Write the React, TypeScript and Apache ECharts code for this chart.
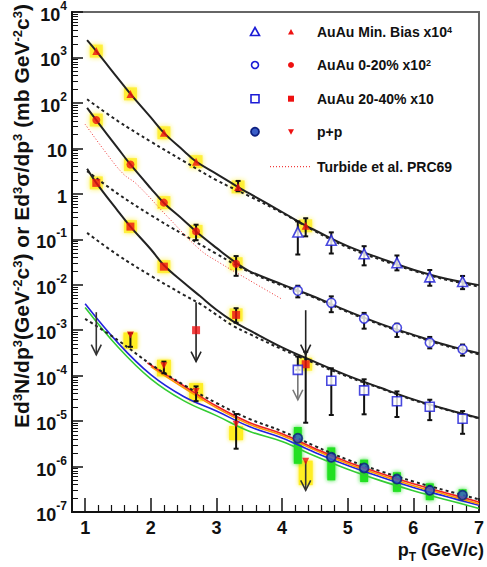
import React, { useEffect, useRef } from 'react';
import * as echarts from 'echarts';

// ---------- axis ticks ----------
const xTickLabels = [1, 2, 3, 4, 5, 6, 7];
const yDecades = [-7, -6, -5, -4, -3, -2, -1, 0, 1, 2, 3, 4];

// ---------- AuAu Min. Bias x10^4 ----------
const mbRedX = [1.17, 1.69, 2.2, 2.69, 3.33, 4.36];
const mbRedY = [1380, 158, 22, 5.1, 1.42, 0.198];
const mbRedErr = [[3.33, 1.14, 1.92], [4.36, 0.116, 0.29]];
const mbBlueX = [4.24, 4.75, 5.25, 5.75, 6.25, 6.75];
const mbBlueY = [0.144, 0.095, 0.048, 0.0305, 0.0149, 0.0118];
const mbBlueHi = [0.247, 0.142, 0.0705, 0.044, 0.0211, 0.0156];
const mbBlueLo = [0.0462, 0.0486, 0.0267, 0.0207, 0.0095, 0.008];
const mbFitX = [1.03, 1.17, 1.5, 1.69, 2, 2.2, 2.5, 2.69, 3, 3.33, 3.5, 4, 4.36, 4.5, 5, 5.5, 6, 6.5, 7];
const mbFitY = [2400, 1380, 347, 158, 47.9, 21.9, 8.9, 5.13, 2.75, 1.41, 1.02, 0.398, 0.2, 0.158, 0.0708, 0.038, 0.0214, 0.0135, 0.0098];
const mbDashX = [1.03, 1.5, 2, 2.5, 3, 3.5, 4, 4.5, 5, 5.5, 6, 6.5, 7];
const mbDashY = [120, 39.8, 14.1, 5.25, 2.0, 0.89, 0.38, 0.151, 0.066, 0.0355, 0.0204, 0.0129, 0.0091];

// ---------- AuAu 0-20% x10^2 ----------
const c20RedX = [1.17, 1.69, 2.2, 2.69, 3.3];
const c20RedY = [42, 4.4, 0.64, 0.149, 0.029];
const c20RedErr = [[2.69, 0.0955, 0.209], [3.3, 0.0157, 0.0427]];
const c20BlueX = [4.24, 4.75, 5.25, 5.75, 6.25, 6.75];
const c20BlueY = [0.0074, 0.004, 0.0018, 0.00113, 5.3e-4, 3.8e-4];
const c20BlueHi = [0.0095, 0.00555, 0.0024, 0.00139, 7.1e-4, 4.83e-4];
const c20BlueLo = [0.00527, 0.00249, 0.00108, 7.1e-4, 3.98e-4, 2.75e-4];
const c20FitX = [1.03, 1.17, 1.5, 1.69, 2, 2.2, 2.5, 2.69, 3, 3.3, 3.5, 4, 4.5, 5, 5.5, 6, 6.5, 7];
const c20FitY = [77.6, 41.7, 10, 4.42, 1.32, 0.63, 0.263, 0.148, 0.0646, 0.0302, 0.02, 0.0102, 0.00537, 0.00263, 0.00138, 7.9e-4, 4.7e-4, 3.1e-4];
const c20DashX = [1.03, 1.5, 2, 2.5, 3, 3.5, 4, 4.5, 5, 5.5, 6, 6.5, 7];
const c20DashY = [3.16, 1.0, 0.339, 0.126, 0.0479, 0.0191, 0.00955, 0.00513, 0.00251, 0.00132, 7.6e-4, 4.5e-4, 2.95e-4];

// ---------- AuAu 20-40% x10 ----------
const c40RedX = [1.17, 1.69, 2.2, 2.69, 3.3, 4.36];
const c40RedY = [1.74, 0.19, 0.025, 0.001, 0.00217, 1.78e-4];
const c40RedSys = [true, true, true, false, true, true];
const c40RedErr = [[3.3, 1.46e-3, 3.04e-3], [4.36, 9.2e-6, 3.36e-4]];
const c40Arrows = [[2.69, 4.1e-3, 2.04e-4], [4.36, 2.75e-3, 2.9e-4]];
const c40BlueX = [4.24, 4.75, 5.25, 5.75, 6.25, 6.75];
const c40BlueY = [1.34e-4, 7.7e-5, 4.75e-5, 2.73e-5, 2.06e-5, 1.13e-5];
const c40BlueHi = [2.63e-4, 1.45e-4, 8.3e-5, 4.5e-5, 2.95e-5, 1.66e-5];
const c40BlueLo = [1.34e-4, 1.36e-5, 1.41e-5, 1.23e-5, 1.05e-5, 5.25e-6];
const c40GrayArrow = [[4.24, 1.34e-4, 2.95e-5]];
const c40FitX = [1.03, 1.17, 1.5, 1.69, 2, 2.2, 2.5, 2.75, 3, 3.25, 3.5, 4, 4.5, 5, 5.5, 6, 6.5, 7];
const c40FitY = [3.55, 1.74, 0.417, 0.19, 0.0603, 0.0269, 0.0112, 0.00562, 0.00282, 0.00158, 0.001, 4.17e-4, 2.0e-4, 1.0e-4, 5.4e-5, 3.0e-5, 1.82e-5, 1.17e-5];
const c40DashX = [1.03, 1.5, 2, 2.5, 2.75, 3, 3.25, 3.5, 4, 4.5, 5, 5.5, 6, 6.5, 7];
const c40DashY = [0.138, 0.0447, 0.0158, 0.006, 0.0038, 0.00219, 0.00126, 8.3e-4, 3.8e-4, 1.86e-4, 9.5e-5, 5.25e-5, 2.9e-5, 1.78e-5, 1.15e-5];

// ---------- p+p ----------
const ppRedX = [1.69, 2.2, 2.69, 3.3, 4.36];
const ppRedY = [7.8e-4, 1.66e-4, 4.5e-5, 8.5e-6, 1.3e-6];
const ppRedErr = [[1.69, 4.3e-4, 8.6e-4], [2.2, 1.13e-4, 2.03e-4], [2.69, 2.75e-5, 5.8e-5], [3.3, 2.47e-6, 1.43e-5]];
const ppRedSys = [[1.69, 3.9e-4, 8.9e-4], [2.2, 9.6e-5, 2.24e-4], [2.69, 2.74e-5, 6.85e-5], [3.3, 3.8e-6, 7.8e-6], [4.36, 3.9e-7, 1.35e-6]];
const ppArrows = [[1.17, 2.49e-3, 2.9e-4], [4.36, 1.3e-6, 3.0e-7]];
const ppBlueX = [4.24, 4.75, 5.25, 5.75, 6.25, 6.75];
const ppBlueY = [4.2e-6, 1.6e-6, 9.3e-7, 5.3e-7, 3.0e-7, 2.35e-7];
const ppBlueSysLo = [1.15e-6, 4.97e-7, 4.56e-7, 2.77e-7, 1.82e-7, 1.76e-7];
const ppBlueSysHi = [7.4e-6, 2.64e-6, 1.42e-6, 7.5e-7, 4.27e-7, 3.17e-7];
const ppDashX = [1.0, 1.5, 2, 2.5, 3, 3.5, 4, 4.5, 5, 5.5, 6, 6.5, 7];
const ppDashY = [1.78e-3, 6.0e-4, 1.78e-4, 6.3e-5, 2.5e-5, 1.12e-5, 6.0e-6, 2.82e-6, 1.41e-6, 7.9e-7, 4.7e-7, 2.95e-7, 1.9e-7];
const ppRedCurveX = [1.95, 2.5, 3, 3.5, 4, 4.5, 5, 5.5, 6, 6.5, 7];
const ppRedCurveY = [1.9e-4, 6.0e-5, 2.14e-5, 9.3e-6, 5.25e-6, 2.5e-6, 1.26e-6, 7.1e-7, 4.17e-7, 2.63e-7, 1.66e-7];
const ppOrangeX = [2.0, 2.5, 3, 3.5, 4, 4.5, 5, 5.5, 6, 6.5, 7];
const ppOrangeY = [1.58e-4, 5.4e-5, 1.95e-5, 8.5e-6, 4.8e-6, 2.3e-6, 1.15e-6, 6.5e-7, 3.8e-7, 2.4e-7, 1.51e-7];
const ppBlueCurveX = [1.0, 1.5, 2, 2.5, 3, 3.5, 4, 4.5, 5, 5.5, 6, 6.5, 7];
const ppBlueCurveY = [3.8e-3, 5.25e-4, 1.05e-4, 3.47e-5, 1.66e-5, 7.6e-6, 4.27e-6, 2.04e-6, 1.05e-6, 5.9e-7, 3.47e-7, 2.19e-7, 1.41e-7];
const ppGreenX = [1.0, 1.5, 2, 2.5, 3, 3.5, 4, 4.5, 5, 5.5, 6, 6.5, 7];
const ppGreenY = [3.16e-3, 4.27e-4, 8.5e-5, 2.82e-5, 1.32e-5, 6.0e-6, 3.55e-6, 1.7e-6, 8.7e-7, 4.9e-7, 2.95e-7, 1.86e-7, 1.2e-7];

// ---------- Turbide et al. ----------
const turbX = [1.0, 1.33, 1.58, 1.78, 2.28, 2.75, 3.03, 3.5, 4.0];
const turbY = [33.9, 7.6, 2.75, 1.66, 0.288, 0.0589, 0.0316, 0.0126, 0.00479];

// ---------- legend ----------
const legendTexts = ['AuAu Min. Bias x10{s|4}', 'AuAu 0-20% x10{s|2}', 'AuAu 20-40% x10', 'p+p', 'Turbide et al. PRC69'];

const FONT = '"Liberation Sans", Arial, Helvetica, sans-serif';
const BLUE = '#1c1cd6';
const RED = '#ee1111';
const YELLOW = '#ffee22';
const GREEN = '#22e022';

const L = (v: number) => Math.log10(v);
const pts = (xs: number[], ys: number[]) => xs.map((x, i) => [x, L(ys[i])]);

export default function App() {
  const ref = useRef<HTMLDivElement>(null);
  useEffect(() => {
    document.body.style.margin = '0';
    const chart = echarts.init(ref.current!, null, { renderer: 'svg' });

    const minorY: number[] = [];
    for (let n = -7; n < 4; n++) for (let k = 2; k <= 9; k++) minorY.push(n + Math.log10(k));
    const minorX: number[] = [];
    for (let i = 6; i <= 34; i++) if (i % 5 !== 0) minorX.push(i / 5);

    const line = (xs: number[], ys: number[], color: string, width: number, type: any, z = 3) => ({
      type: 'line', data: pts(xs, ys), showSymbol: false, smooth: 0.4, silent: true, z,
      lineStyle: { color, width, type },
    });

    const errRender = (color: string) => (params: any, api: any) => {
      const x = api.value(0), lo = api.value(1), hi = api.value(2);
      const a = api.coord([x, hi]);
      const b = api.coord([x, lo]);
      const st = { stroke: color, lineWidth: 2 };
      return {
        type: 'group', children: [
          { type: 'line', shape: { x1: a[0], y1: a[1], x2: b[0], y2: b[1] }, style: st },
          { type: 'line', shape: { x1: a[0] - 2.5, y1: a[1], x2: a[0] + 2.5, y2: a[1] }, style: st },
          { type: 'line', shape: { x1: b[0] - 2.5, y1: b[1], x2: b[0] + 2.5, y2: b[1] }, style: st },
        ],
      };
    };
    const arrowRender = (color: string) => (params: any, api: any) => {
      const x = api.value(0), top = api.value(1), bot = api.value(2);
      const a = api.coord([x, top]);
      const b = api.coord([x, bot]);
      const st = { stroke: color, lineWidth: 1.6, fill: 'none' };
      return {
        type: 'group', children: [
          { type: 'line', shape: { x1: a[0], y1: a[1], x2: b[0], y2: b[1] }, style: st },
          { type: 'polyline', shape: { points: [[b[0] - 5, b[1] - 10], [b[0], b[1]], [b[0] + 5, b[1] - 10]] }, style: st },
        ],
      };
    };
    const boxRender = (color: string, w: number) => (params: any, api: any) => {
      const x = api.value(0), lo = api.value(1), hi = api.value(2);
      const a = api.coord([x, hi]);
      const b = api.coord([x, lo]);
      return { type: 'rect', shape: { x: a[0] - w / 2, y: a[1], width: w, height: b[1] - a[1] }, style: { fill: color, shadowBlur: 4, shadowColor: color } };
    };
    const errData = (arr: number[][]) => arr.map((d) => [d[0], L(d[1]), L(d[2])]);
    const errFrom = (xs: number[], lo: number[], hi: number[]) => xs.map((x, i) => [x, L(lo[i]), L(hi[i])]);

    const custom = (data: any[], render: any, z: number) => ({
      type: 'custom', data, renderItem: render, z, silent: true, encode: { x: 0, y: [1, 2] },
    });

    const yellowPts = [
      ...pts(mbRedX, mbRedY),
      ...pts(c20RedX, c20RedY),
      ...pts(c40RedX, c40RedY).filter((_, i) => c40RedSys[i]),
    ];

    const blueOpen = (xs: number[], ys: number[], symbol: string, size: number) => ({
      type: 'scatter', data: pts(xs, ys), symbol, symbolSize: size, z: 6, silent: true,
      itemStyle: { color: '#ffffff', borderColor: BLUE, borderWidth: 1.6 },
    });
    const redFilled = (xs: number[], ys: number[], symbol: string, size: number, rotate = 0) => ({
      type: 'scatter', data: pts(xs, ys), symbol, symbolSize: size, symbolRotate: rotate, z: 6, silent: true,
      itemStyle: { color: RED },
    });

    const legendY = [32, 65, 98.7, 131.7, 166.7];
    const lg: any[] = [];
    const bx = 255, rx = 291, tx = 317;
    lg.push({ type: 'polygon', shape: { points: [[bx, legendY[0] - 4.5], [bx + 4.5, legendY[0] + 3.5], [bx - 4.5, legendY[0] + 3.5]] }, style: { fill: 'none', stroke: BLUE, lineWidth: 1.6 } });
    lg.push({ type: 'polygon', shape: { points: [[rx, legendY[0] - 3], [rx + 3, legendY[0] + 2.5], [rx - 3, legendY[0] + 2.5]] }, style: { fill: RED } });
    lg.push({ type: 'circle', shape: { cx: bx, cy: legendY[1], r: 3.5 }, style: { fill: 'none', stroke: BLUE, lineWidth: 1.6 } });
    lg.push({ type: 'circle', shape: { cx: rx, cy: legendY[1], r: 3 }, style: { fill: RED } });
    lg.push({ type: 'rect', shape: { x: bx - 4, y: legendY[2] - 4, width: 8, height: 8 }, style: { fill: 'none', stroke: BLUE, lineWidth: 1.6 } });
    lg.push({ type: 'rect', shape: { x: rx - 3, y: legendY[2] - 3, width: 6, height: 6 }, style: { fill: RED } });
    lg.push({ type: 'circle', shape: { cx: bx, cy: legendY[3], r: 4 }, style: { fill: '#3a5ec8', stroke: '#0d1f80', lineWidth: 1.8 } });
    lg.push({ type: 'polygon', shape: { points: [[rx - 3, legendY[3] - 2.5], [rx + 3, legendY[3] - 2.5], [rx, legendY[3] + 3]] }, style: { fill: RED } });
    lg.push({ type: 'line', shape: { x1: 270, y1: legendY[4], x2: 310, y2: legendY[4] }, style: { stroke: RED, lineWidth: 1, lineDash: [1, 2] } });
    legendTexts.forEach((t, i) => {
      lg.push({
        type: 'text', x: tx, y: legendY[i],
        style: {
          text: t, fontFamily: FONT, fontSize: 14, fontWeight: 'bold', fill: '#111',
          verticalAlign: 'middle', align: 'left',
          rich: { s: { fontSize: 9, fontWeight: 'bold', fontFamily: FONT, verticalAlign: 'top', lineHeight: 9 } },
        },
      });
    });

    const option: any = {
      animation: false,
      backgroundColor: '#ffffff',
      grid: { left: 72, right: 4, top: 6, bottom: 55, show: true, borderColor: '#666', borderWidth: 2, backgroundColor: 'transparent' },
      xAxis: [
        {
          type: 'value', min: 0.8, max: 7, position: 'bottom',
          axisLine: { onZero: false, lineStyle: { color: '#111', width: 2 } },
          axisTick: { show: true, inside: true, length: 14, customValues: xTickLabels, lineStyle: { color: '#111', width: 1.5 } },
          axisLabel: {
            customValues: xTickLabels, margin: 7, color: '#111', fontSize: 18, fontWeight: 'bold', fontFamily: FONT,
            formatter: (v: number) => String(v),
          },
          splitLine: { show: false },
        },
        {
          type: 'value', min: 0.8, max: 7, position: 'bottom', gridIndex: 0,
          axisLine: { show: false, onZero: false },
          axisTick: { show: true, inside: true, length: 7, customValues: minorX, lineStyle: { color: '#111', width: 1.2 } },
          axisLabel: { show: false },
          splitLine: { show: false },
        },
      ],
      yAxis: [
        {
          type: 'value', min: -7, max: 4, interval: 1, position: 'left',
          axisLine: { show: true, onZero: false, lineStyle: { color: '#111', width: 2 } },
          axisTick: { show: true, inside: true, length: 11, lineStyle: { color: '#111', width: 1.5 } },
          axisLabel: {
            margin: 5, color: '#111', fontFamily: FONT,
            formatter: (v: number) => (v === 0 ? '{b|1}' : v === 1 ? '{b|10}' : `{b|10}{s|${v}}`),
            rich: {
              b: { fontSize: 18, fontWeight: 'bold', fontFamily: FONT, color: '#111', lineHeight: 24, verticalAlign: 'bottom' },
              s: { fontSize: 12, fontWeight: 'bold', fontFamily: FONT, color: '#111', lineHeight: 12, verticalAlign: 'top' },
            },
          },
          splitLine: { show: false },
        },
        {
          type: 'value', min: -7, max: 4, position: 'left', gridIndex: 0,
          axisLine: { show: false, onZero: false },
          axisTick: { show: true, inside: true, length: 6, customValues: minorY, lineStyle: { color: '#111', width: 1 } },
          axisLabel: { show: false },
          splitLine: { show: false },
        },
      ],
      series: [
        // systematic boxes
        { type: 'scatter', data: yellowPts, symbol: 'rect', symbolSize: 13, z: 1, silent: true, itemStyle: { color: YELLOW, shadowBlur: 5, shadowColor: YELLOW } },
        custom(errData(ppRedSys), boxRender(YELLOW, 14), 1),
        custom(errFrom(ppBlueX, ppBlueSysLo, ppBlueSysHi), boxRender(GREEN, 8), 1),
        // curves
        line(mbFitX, mbFitY, '#222', 2, 'solid'),
        line(mbDashX, mbDashY, '#222', 2, [3, 3]),
        line(c20FitX, c20FitY, '#222', 2, 'solid'),
        line(c20DashX, c20DashY, '#222', 2, [3, 3]),
        line(c40FitX, c40FitY, '#222', 2, 'solid'),
        line(c40DashX, c40DashY, '#222', 2, [3, 3]),
        line(ppGreenX, ppGreenY, '#33cc33', 1.6, 'solid'),
        line(ppBlueCurveX, ppBlueCurveY, '#2222dd', 1.6, 'solid'),
        line(ppOrangeX, ppOrangeY, '#ff9a00', 1.6, 'solid'),
        line(ppRedCurveX, ppRedCurveY, '#ee2222', 1.6, 'solid'),
        line(ppDashX, ppDashY, '#222', 2, [3, 3]),
        line(turbX, turbY, '#ee3333', 1, [1, 2]),
        // error bars
        custom(errData(mbRedErr), errRender('#111'), 5),
        custom(errFrom(mbBlueX, mbBlueLo, mbBlueHi), errRender('#111'), 5),
        custom(errData(c20RedErr), errRender('#111'), 5),
        custom(errFrom(c20BlueX, c20BlueLo, c20BlueHi), errRender('#111'), 5),
        custom(errData(c40RedErr), errRender('#111'), 5),
        custom(errFrom(c40BlueX, c40BlueLo, c40BlueHi), errRender('#111'), 5),
        custom(errData(ppRedErr), errRender('#111'), 5),
        // upper-limit arrows
        custom(errData(c40Arrows), arrowRender('#222'), 5),
        custom(errData(ppArrows), arrowRender('#333'), 5),
        custom(errData(c40GrayArrow), arrowRender('#777'), 5),
        // markers
        redFilled(mbRedX, mbRedY, 'triangle', 8),
        redFilled(c20RedX, c20RedY, 'circle', 8),
        redFilled(c40RedX, c40RedY, 'rect', 8),
        redFilled(ppRedX, ppRedY, 'triangle', 7, 180),
        blueOpen(mbBlueX, mbBlueY, 'triangle', 10),
        blueOpen(c20BlueX, c20BlueY, 'circle', 9),
        blueOpen(c40BlueX, c40BlueY, 'rect', 9),
        {
          type: 'scatter', data: pts(ppBlueX, ppBlueY), symbol: 'circle', symbolSize: 9, z: 6, silent: true,
          itemStyle: { color: '#3a5ec8', borderColor: '#0d1f80', borderWidth: 1.8 },
        },
      ],
      graphic: [
        ...lg.map((g) => ({ ...g, z: 20 })),
        {
          type: 'text', x: 21, y: 216, rotation: Math.PI / 2, z: 20,
          style: {
            text: 'Ed{s|3}N/dp{s|3}(GeV{s|-2}c{s|3}) or Ed{s|3}σ/dp{s|3} (mb GeV{s|-2}c{s|3})',
            fontFamily: FONT, fontSize: 21, fontWeight: 'bold', fill: '#111', align: 'center', verticalAlign: 'middle',
            rich: { s: { fontSize: 13, fontWeight: 'bold', fontFamily: FONT, verticalAlign: 'top', lineHeight: 13 } },
          },
        },
        {
          type: 'text', x: 484, y: 550, z: 20,
          style: {
            text: 'p{t|T} (GeV/c)', fontFamily: FONT, fontSize: 18, fontWeight: 'bold', fill: '#111', align: 'right', verticalAlign: 'middle',
            rich: { t: { fontSize: 12, fontWeight: 'bold', fontFamily: FONT, verticalAlign: 'bottom', lineHeight: 12, padding: [0, 0, -4, 0] } },
          },
        },
      ],
    };
    chart.setOption(option);
    return () => chart.dispose();
  }, []);
  return <div ref={ref} style={{ width: 487, height: 567 }} />;
}
